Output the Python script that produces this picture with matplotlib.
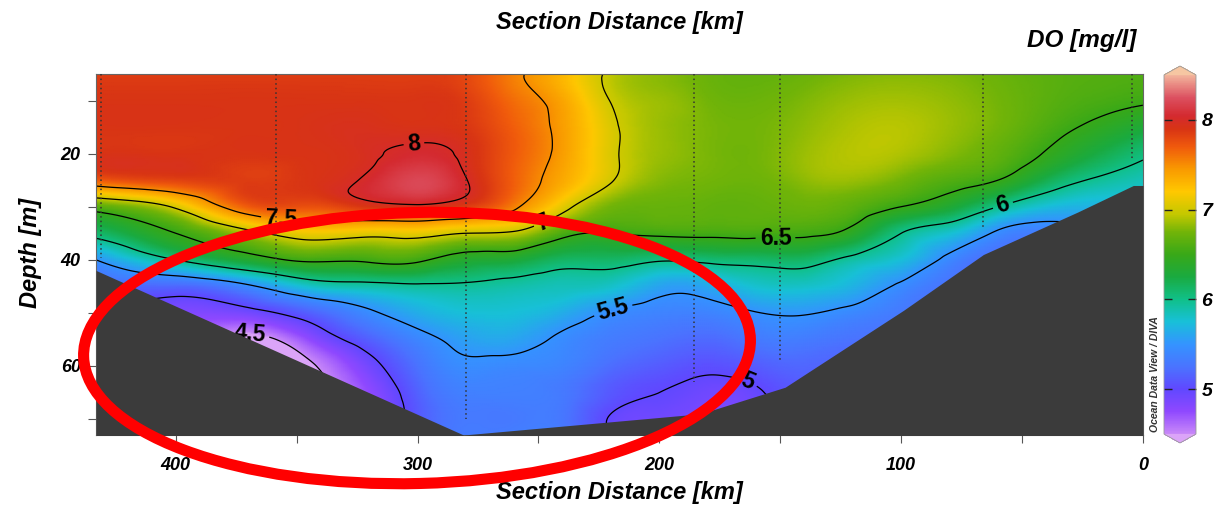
import numpy as np
import matplotlib
matplotlib.use("Agg")
import matplotlib.pyplot as plt
import matplotlib.tri as mtri
from matplotlib.colors import LinearSegmentedColormap, Normalize
from matplotlib.cm import ScalarMappable
from matplotlib.patches import Ellipse
from matplotlib.transforms import IdentityTransform
from matplotlib.ticker import MultipleLocator

# DO values read off the section, one list per depth level,
# one value per distance node in dist_km
dist_km = [433, 400, 370, 345, 320, 300, 280, 260, 240, 220, 200,
           180, 160, 140, 120, 100, 80, 60, 40, 20, 0]
depth_m = [5, 10, 15, 20, 25, 30, 35, 40, 45, 50, 55, 60, 65, 70, 75]

do_05m = [7.85, 7.85, 7.85, 7.85, 7.85, 7.85, 7.8, 7.55, 7.3, 6.95, 6.82, 6.72, 6.68, 6.72, 6.78, 6.8, 6.78, 6.72, 6.65, 6.62, 6.6]
do_10m = [7.9, 7.9, 7.9, 7.9, 7.9, 7.9, 7.85, 7.62, 7.38, 6.99, 6.85, 6.75, 6.72, 6.78, 6.85, 6.87, 6.83, 6.75, 6.65, 6.58, 6.53]
do_15m = [7.9, 7.9, 7.9, 7.92, 7.94, 7.92, 7.88, 7.68, 7.42, 7.05, 6.85, 6.77, 6.75, 6.82, 6.9, 6.92, 6.85, 6.75, 6.6, 6.45, 6.3]
do_20m = [7.9, 7.9, 7.9, 7.91, 7.97, 8.05, 7.95, 7.7, 7.42, 7.05, 6.85, 6.77, 6.75, 6.85, 6.92, 6.9, 6.8, 6.68, 6.48, 6.25, 6.05]
do_25m = [7.7, 7.82, 7.85, 7.9, 8.04, 8.2, 8.01, 7.68, 7.36, 7.02, 6.8, 6.75, 6.73, 6.82, 6.85, 6.75, 6.62, 6.5, 6.2, 5.97, 5.85]
do_30m = [6.65, 7.05, 7.7, 7.75, 7.9, 7.95, 7.85, 7.55, 7.1, 6.75, 6.7, 6.68, 6.68, 6.72, 6.66, 6.5, 6.32, 6.0, 5.75, 5.68, 5.7]
do_35m = [6.1, 6.5, 6.9, 7.15, 7.1, 7.12, 7.0, 6.95, 6.6, 6.5, 6.55, 6.56, 6.57, 6.55, 6.4, 6.0, 5.78, 5.45, 5.35, 5.5, 5.6]
do_40m = [5.5, 6.0, 6.35, 6.55, 6.55, 6.55, 6.35, 6.3, 6.13, 6.12, 6.03, 6.07, 6.1, 6.12, 5.92, 5.75, 5.42, 5.2, 5.2, 5.4, 5.55]
do_45m = [5.2, 5.2, 5.45, 5.8, 5.9, 5.95, 5.95, 5.9, 5.85, 5.8, 5.6, 5.62, 5.78, 5.8, 5.68, 5.45, 5.25, 5.1, 5.1, 5.35, 5.55]
do_50m = [5.0, 4.85, 4.9, 5.15, 5.45, 5.65, 5.75, 5.75, 5.65, 5.47, 5.38, 5.38, 5.49, 5.52, 5.42, 5.3, 5.15, 5.05, 5.1, 5.35, 5.55]
do_55m = [4.9, 4.7, 4.4, 4.75, 5.15, 5.4, 5.58, 5.6, 5.45, 5.32, 5.25, 5.2, 5.3, 5.32, 5.25, 5.2, 5.1, 5.05, 5.1, 5.35, 5.55]
do_60m = [4.8, 4.6, 4.3, 4.45, 4.9, 5.25, 5.45, 5.42, 5.38, 5.22, 5.12, 5.05, 5.12, 5.18, 5.15, 5.15, 5.1, 5.05, 5.1, 5.35, 5.55]
do_65m = [4.8, 4.6, 4.3, 4.4, 4.75, 5.15, 5.35, 5.35, 5.3, 5.1, 5.0, 4.92, 4.97, 5.1, 5.1, 5.15, 5.1, 5.05, 5.1, 5.35, 5.55]
do_70m = [4.8, 4.6, 4.3, 4.4, 4.7, 5.1, 5.3, 5.3, 5.28, 4.98, 4.92, 4.85, 4.9, 5.05, 5.1, 5.15, 5.1, 5.05, 5.1, 5.35, 5.55]
do_75m = [4.8, 4.6, 4.3, 4.4, 4.7, 5.1, 5.3, 5.3, 5.28, 4.95, 4.9, 4.85, 4.9, 5.05, 5.1, 5.15, 5.1, 5.05, 5.1, 5.35, 5.55]

# sea floor outline and CTD stations
bottom_km = [433, 281, 183, 148, 99, 66, 27, 4, 0]
bottom_depth = [42, 73, 69, 64, 49.5, 39, 31, 26, 26]
station_km = [431, 358.7, 279.8, 185.5, 150, 66, 4.5]
station_depth = [39.6, 47, 70, 63, 59, 34, 21]

contour_levels = [4.5, 5, 5.5, 6, 6.5, 7, 7.5, 8]
cbar_ticks = [5, 6, 7, 8]
x_ticks = [0, 100, 200, 300, 400]
y_ticks = [20, 40, 60]

# where the contour labels sit (km, m)
label_spots = [(301.6, 17.7), (356.6, 32.8), (248, 32.8), (152, 36.6),
               (58, 29.6), (219.4, 49), (163.6, 63), (369.4, 53.8)]

# ODV-like palette
cnodes = [4.5, 4.75, 5.0, 5.25, 5.5, 5.75, 6.0, 6.25, 6.5, 6.75, 6.95,
          7.2, 7.45, 7.7, 7.9, 8.05, 8.25, 8.5]
ccolors = ['#c888f8', '#8f48ff', '#6048ff', '#4a74ff', '#3494ff', '#18c0d8',
           '#10c088', '#1aaa40', '#38a818', '#72b408', '#c4c800', '#ffc800',
           '#f99a00', '#f05a0c', '#d83414', '#d42a30', '#dc5060', '#f2b49c']
vmin, vmax = 4.5, 8.5

plt.rcParams['font.family'] = 'Liberation Sans'
plt.rcParams['font.weight'] = 'bold'

W, H = 1229, 512
fig = plt.figure(figsize=(W / 100, H / 100), dpi=100)


def box(x0, y0, x1, y1):
    return [x0 / W, 1 - y1 / H, (x1 - x0) / W, (y1 - y0) / H]


ax = fig.add_axes(box(96, 74, 1143, 435))

cmap = LinearSegmentedColormap.from_list(
    'odv', [((v - vmin) / (vmax - vmin), c) for v, c in zip(cnodes, ccolors)], N=512)
cmap.set_over('#f6c6a2')
cmap.set_under('#dba4f8')
norm = Normalize(vmin, vmax)

do = np.array([do_05m, do_10m, do_15m, do_20m, do_25m, do_30m, do_35m, do_40m,
               do_45m, do_50m, do_55m, do_60m, do_65m, do_70m, do_75m])
gx, gz = np.meshgrid(dist_km, depth_m)
# triangulate in pixel-like units so km and m are comparable
sx, sz = 2.42, 5.3
tri = mtri.Triangulation(gx.ravel() * sx, gz.ravel() * sz)
interp = mtri.CubicTriInterpolator(tri, do.ravel(), kind='min_E')
fk = np.linspace(432.95, 0.05, 520)
fd = np.linspace(5.02, 74.9, 280)
FK, FD = np.meshgrid(fk, fd)
field = np.ma.filled(interp(FK * sx, FD * sz), np.nan)

ax.pcolormesh(FK, FD, field, cmap=cmap, norm=norm, shading='gouraud', zorder=1)
cs = ax.contour(FK, FD, field, levels=contour_levels, colors='black',
                linewidths=0.9, zorder=2)
ax.clabel(cs, manual=label_spots, fmt=lambda v: f'{v:g}', fontsize=16.5,
          inline=True, inline_spacing=4)

for k, d in zip(station_km, station_depth):
    ax.plot([k, k], [5, d], color='#333333', ls=(0, (1, 2)), lw=1.1, zorder=3)

ax.fill_between(bottom_km, bottom_depth, 80, color='#3b3b3b', lw=0, zorder=5)

ax.set_xlim(433, 0)
ax.set_ylim(73, 5)
ax.set_xticks(x_ticks)
ax.set_yticks(y_ticks)
ax.xaxis.set_minor_locator(MultipleLocator(50))
ax.yaxis.set_minor_locator(MultipleLocator(10))
ax.tick_params(which='both', direction='out', length=6, width=0.8, color='#555555',
               labelsize=13)
ax.tick_params(axis='x', pad=10)
ax.tick_params(axis='y', pad=5)
for lbl in ax.get_xticklabels() + ax.get_yticklabels():
    lbl.set_style('italic')
for sp in ax.spines.values():
    sp.set_color('#666666')
    sp.set_linewidth(0.8)

fig.text(619.5 / W, 1 - 22 / H, 'Section Distance [km]', ha='center', va='center',
         fontsize=17, style='italic')
fig.text(619.5 / W, 1 - 492 / H, 'Section Distance [km]', ha='center', va='center',
         fontsize=17, style='italic')
fig.text(30 / W, 1 - 253 / H, 'Depth [m]', rotation=90, ha='center', va='center',
         fontsize=17, style='italic')
fig.text(1136 / W, 1 - 40 / H, 'DO [mg/l]', ha='right', va='center',
         fontsize=17.5, style='italic')
fig.text(1155 / W, 1 - 432 / H, 'Ocean Data View / DIVA', rotation=90, ha='center',
         va='bottom', fontsize=7.5, style='italic', color='#333333')

cax = fig.add_axes(box(1164, 66, 1196, 443))
cb = fig.colorbar(ScalarMappable(norm=norm, cmap=cmap), cax=cax, extend='both',
                  extendfrac=0.025, ticks=cbar_ticks)
cb.minorticks_off()
cb.outline.set_edgecolor('#999999')
cb.outline.set_linewidth(0.6)
cax.tick_params(direction='in', left=True, right=True, length=6, width=1,
                color='#222222', labelsize=14, pad=4)
for lbl in cax.get_yticklabels():
    lbl.set_style('italic')

# red hand-drawn highlight
fig.add_artist(Ellipse((417, H - 348), 667, 271, angle=1.5, fill=False,
                       ec='#ff0000', lw=8, transform=IdentityTransform(),
                       clip_on=False, zorder=20))

fig.savefig('out.png', dpi=100)
